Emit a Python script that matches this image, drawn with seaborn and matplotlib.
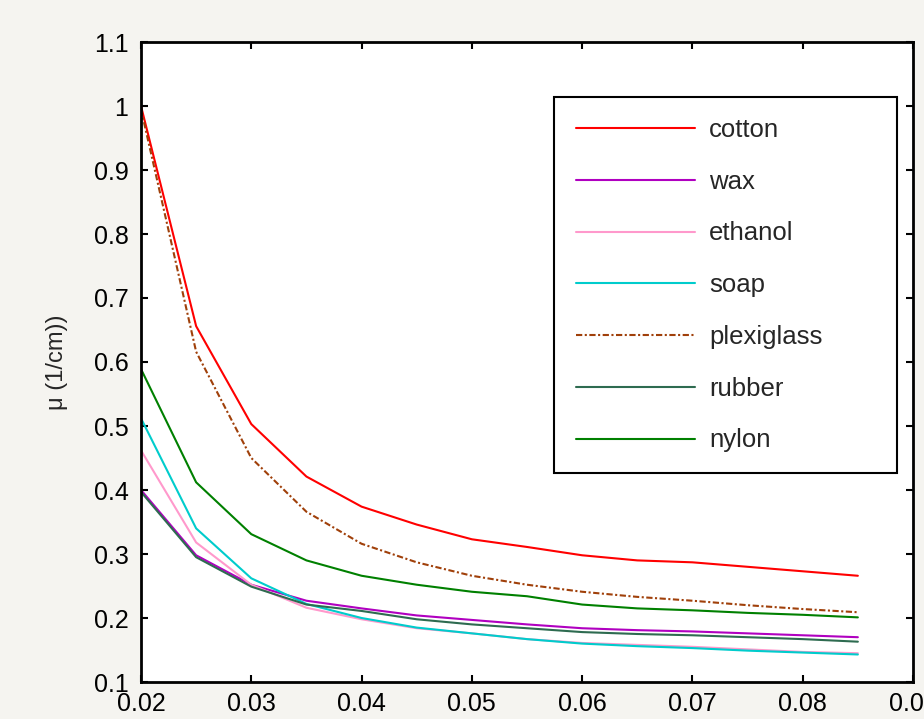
import numpy as np
import pandas as pd
import matplotlib
matplotlib.use("Agg")
import matplotlib.pyplot as plt
import seaborn as sns
from matplotlib.ticker import FuncFormatter, MultipleLocator
from matplotlib.patches import Rectangle

x = [0.02, 0.025, 0.03, 0.035, 0.04, 0.045, 0.05, 0.055, 0.06, 0.065, 0.07, 0.075, 0.08, 0.085]

cotton     = [1.000, 0.656, 0.503, 0.421, 0.374, 0.346, 0.323, 0.311, 0.298, 0.290, 0.287, 0.280, 0.273, 0.266]
wax        = [0.400, 0.298, 0.252, 0.227, 0.215, 0.204, 0.197, 0.190, 0.184, 0.181, 0.179, 0.176, 0.173, 0.170]
ethanol    = [0.462, 0.318, 0.252, 0.216, 0.198, 0.184, 0.176, 0.167, 0.161, 0.158, 0.155, 0.151, 0.147, 0.145]
soap       = [0.512, 0.340, 0.262, 0.222, 0.200, 0.185, 0.176, 0.167, 0.160, 0.156, 0.153, 0.149, 0.146, 0.143]
plexiglass = [0.995, 0.616, 0.450, 0.366, 0.316, 0.287, 0.266, 0.252, 0.241, 0.233, 0.227, 0.220, 0.214, 0.209]
rubber     = [0.397, 0.295, 0.249, 0.221, 0.211, 0.198, 0.190, 0.184, 0.178, 0.175, 0.173, 0.170, 0.167, 0.163]
nylon      = [0.589, 0.412, 0.331, 0.290, 0.266, 0.252, 0.241, 0.234, 0.221, 0.215, 0.212, 0.208, 0.205, 0.201]

names = ["cotton", "wax", "ethanol", "soap", "plexiglass", "rubber", "nylon"]
series = [cotton, wax, ethanol, soap, plexiglass, rubber, nylon]
colors = {"cotton": "#ff0000", "wax": "#b000c0", "ethanol": "#ff99cc", "soap": "#00cccc",
          "plexiglass": "#a0400a", "rubber": "#2e6b50", "nylon": "#008000"}
dashes = {n: "" for n in names}
dashes["plexiglass"] = (3, 1.2, 1, 1.2)

df = pd.DataFrame({
    "x": np.tile(x, len(names)),
    "mu": np.concatenate(series),
    "material": np.repeat(names, len(x)),
})

sns.set_style("ticks")
plt.rcParams["font.family"] = ["Liberation Sans", "DejaVu Sans"]

W, H = 924, 719
fig = plt.figure(figsize=(W/100, H/100), dpi=100, facecolor="#f5f4f0")
ax = fig.add_axes([141/W, 1-682/H, (913-141)/W, (682-42)/H])
ax.set_facecolor("white")

sns.lineplot(data=df, x="x", y="mu", hue="material", style="material",
             hue_order=names, style_order=names, palette=colors, dashes=dashes,
             linewidth=1.5, ax=ax, legend=True, sort=False)

ax.set_xlim(0.02, 0.09)
ax.set_ylim(0.1, 1.1)
ax.xaxis.set_major_locator(MultipleLocator(0.01))
ax.yaxis.set_major_locator(MultipleLocator(0.1))
fmt = FuncFormatter(lambda v, p: "%g" % round(v, 4))
ax.xaxis.set_major_formatter(fmt)
ax.yaxis.set_major_formatter(fmt)
ax.tick_params(direction="in", length=5, width=1.5, top=True, right=True,
               labelsize=18, colors="black")
ax.tick_params(axis="x", pad=7)
ax.tick_params(axis="y", pad=9)
for s in ax.spines.values():
    s.set_visible(True)
    s.set_linewidth(2)
    s.set_color("black")
ax.set_xlabel("")
ax.set_ylabel("μ (1/cm))", fontsize=17)
ax.yaxis.set_label_coords(-0.094, 0.5)

# legend box frame (MATLAB style, wider than its content)
box = Rectangle((554/W, 1-473/H), (897-554)/W, (473-97)/H,
                transform=fig.transFigure, facecolor="white",
                edgecolor="black", linewidth=1.5, zorder=4, clip_on=False)
ax.add_patch(box)

leg = ax.legend(loc="upper left", bbox_to_anchor=(576/W, 1-118/H),
                bbox_transform=fig.transFigure, frameon=False,
                fontsize=18.5, handlelength=4.63, handletextpad=0.55,
                labelspacing=1.08, borderpad=0, borderaxespad=0)
leg.set_zorder(6)
for line in leg.get_lines():
    line.set_linewidth(1.5)

fig.savefig("out.png", dpi=100, facecolor=fig.get_facecolor())
